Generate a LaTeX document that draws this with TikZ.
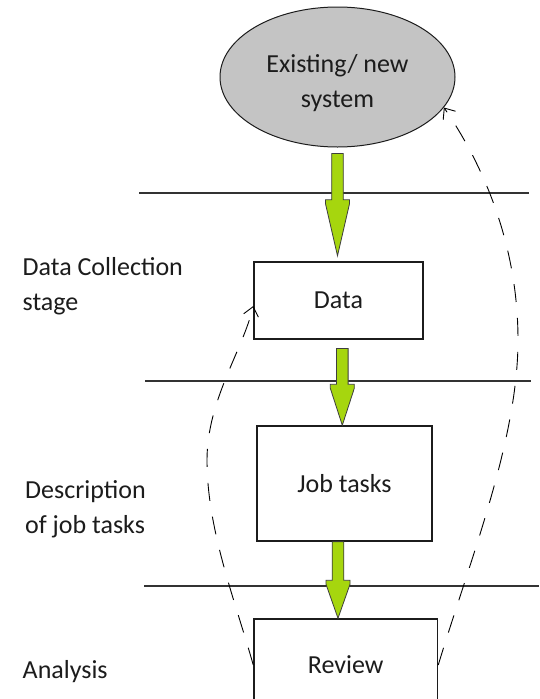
\documentclass[tikz,border=0pt]{standalone}
\usepackage{fontspec}
\setmainfont{Carlito}
\usetikzlibrary{shapes.geometric,arrows.meta,calc}

\definecolor{sysgray}{RGB}{196,196,196}
\definecolor{flowgreen}{RGB}{166,214,14}
\definecolor{ink}{RGB}{28,28,28}

\tikzset{
  bigtext/.style={font=\fontsize{26}{35}\selectfont, text=ink},
  system/.style={ellipse, draw=ink, line width=1pt, fill=sysgray, inner sep=0pt,
    minimum width=235pt, minimum height=140pt, align=center, bigtext},
  stagebox/.style={rectangle, draw=ink, line width=1.5pt, fill=white, inner sep=0pt, bigtext},
  sidelabel/.style={anchor=base west, inner sep=0pt, align=left, bigtext},
  divider/.style={draw=ink!90, line width=1.5pt},
  fatarrow/.style={draw=ink!85, line width=0.8pt, fill=flowgreen, line join=miter},
  feedback/.style={draw=black, line width=0.9pt, dash pattern=on 18pt off 16pt,
    -{Straight Barb[length=9pt,width=15pt]}},
}

% thick green flow arrow: #1 start, #2 tip, #3 head length
\newcommand\flowarrow[3]{%
  \draw[fatarrow] ($(#1)+(-5.8,0)$) -- ($(#2)+(-5.8,-#3)$) -- ($(#2)+(-12,-#3)$)
    -- ($(#2)+(-12,-#3+4)$) -- (#2) -- ($(#2)+(12,-#3+4)$) -- ($(#2)+(12,-#3)$)
    -- ($(#2)+(5.8,-#3)$) -- ($(#1)+(5.8,0)$) -- cycle;}

\begin{document}
\begin{tikzpicture}[x=1pt, y=-1pt]
  \path[use as bounding box, clip] (0,0) rectangle (539,699);
  \fill[white] (0,0) rectangle (539,699);

  % stage dividers
  \draw[divider] (139,193) -- (529,193);
  \draw[divider] (145,381) -- (531,381);
  \draw[divider] (144,586) -- (539,586);

  % main nodes
  \node[system] (sys) at (337.5,77) {\rule{0pt}{30pt}Existing/ new\\system};
  \node[stagebox, minimum width=169pt, minimum height=77pt] (data) at (338.5,300.5) {Data};
  \node[stagebox, minimum width=175pt, minimum height=115pt] (job) at (344.5,483.5) {Job tasks};
  \node[stagebox, minimum width=183.5pt, minimum height=92pt] (rev) at (345.75,665) {Review};

  % stage labels (anchored at the baseline of their last line)
  \node[sidelabel] (lbcollect) at (22.5,310.7) {Data Collection\\stage};
  \node[sidelabel] (lbdescr) at (25,533) {Description\\of job tasks};
  \node[sidelabel] (lbanal) at (22.5,678) {Analysis};

  % green flow arrows
  \coordinate (a1s) at ($(sys.south)+(0,6)$);
  \coordinate (a1t) at ($(sys.south |- data.north)+(0,-5.5)$);
  \coordinate (a2s) at ($(data.south)+(3.8,8.7)$);
  \coordinate (a2t) at (a2s |- job.north);
  \coordinate (a3s) at ($(job.south)+(-6.5,0)$);
  \coordinate (a3t) at (a3s |- rev.north);
  \flowarrow{a1s}{a1t}{56}
  \flowarrow{a2s}{a2t}{41}
  \flowarrow{a3s}{a3t}{38}

  % feedback loops
  \draw[feedback] (rev.west) .. controls (235,600) and (207,530) .. (207,460)
    .. controls (207,400) and (243,350) .. ($(data.west)+(0,5.5)$);
  \draw[feedback] (rev.east) .. controls (470,560) and (518,440) .. (518,340)
    .. controls (518,240) and (480,160) .. (sys.-16);
\end{tikzpicture}
\end{document}
